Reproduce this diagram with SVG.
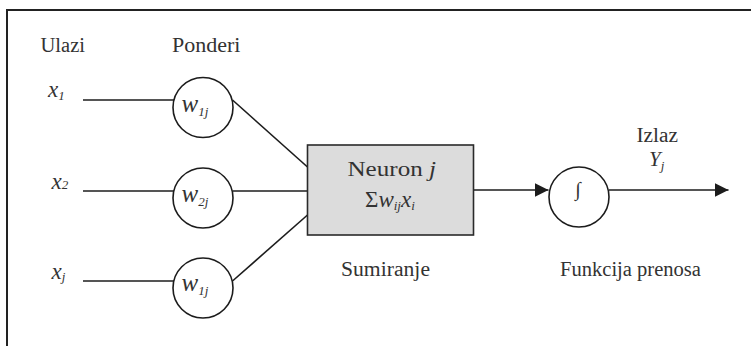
<svg xmlns="http://www.w3.org/2000/svg" width="751" height="346" viewBox="0 0 751 346" font-family="'Liberation Serif', serif">
  <style>
    text { font-family: 'Liberation Serif', serif; fill: #333; }
    .t20 { font-size: 20px; }
    .t21 { font-size: 20.5px; }
    .t22 { font-size: 21px; }
    .var { font-size: 23px; font-style: italic; }
    .wt { font-size: 25px; font-style: italic; }
    .it { font-style: italic; }
    .sub { font-size: 13px; font-style: italic; }
    .edge { stroke: #1c1c1c; stroke-width: 1.6; fill: none; }
    .node { stroke: #1c1c1c; stroke-width: 1.6; fill: #fff; }
    .sum { stroke: #2a2a2a; stroke-width: 1.6; fill: #dcdcdc; }
  </style>
  <defs>
    <marker id="arrow" viewBox="0 0 14 14" refX="14" refY="7" markerWidth="14" markerHeight="14" markerUnits="userSpaceOnUse" orient="auto">
      <path d="M0,0 L14,7 L0,14 Z" fill="#1c1c1c"/>
    </marker>
  </defs>

  <rect width="751" height="346" fill="#fff"/>
  <!-- frame: top and left edges only -->
  <path d="M7,346 V10 H751" stroke="#222" stroke-width="2" fill="none"/>

  <!-- column headings -->
  <text class="t21" x="40.5" y="52" textLength="44.5" lengthAdjust="spacingAndGlyphs">Ulazi</text>
  <text class="t21" x="172" y="52" textLength="68.5" lengthAdjust="spacingAndGlyphs">Ponderi</text>

  <!-- connectors -->
  <g id="connectors">
    <line class="edge" x1="83" y1="100" x2="174" y2="100"/>
    <line class="edge" x1="83" y1="191" x2="174" y2="191"/>
    <line class="edge" x1="83" y1="281" x2="174" y2="281"/>
    <line class="edge" x1="232.5" y1="100" x2="307.5" y2="167"/>
    <line class="edge" x1="232.5" y1="191" x2="307.5" y2="191"/>
    <line class="edge" x1="232.5" y1="281" x2="307.5" y2="215"/>
    <line class="edge" x1="473.5" y1="190" x2="548.5" y2="190" marker-end="url(#arrow)"/>
    <line class="edge" x1="609" y1="190" x2="728.5" y2="190" marker-end="url(#arrow)"/>
  </g>

  <!-- inputs -->
  <g id="input-x1">
    <text class="var" x="48" y="97">x<tspan class="sub" dy="3">1</tspan></text>
  </g>
  <g id="input-x2">
    <text class="var" x="51.5" y="189">x<tspan class="sub">2</tspan></text>
  </g>
  <g id="input-xj">
    <text class="var" x="51.5" y="279">x<tspan class="sub" dy="2">j</tspan></text>
  </g>

  <!-- weights -->
  <g id="weight-1">
    <circle class="node" cx="203" cy="107.5" r="30"/>
    <text class="wt" x="181.5" y="112">w<tspan class="sub" dy="4">1j</tspan></text>
  </g>
  <g id="weight-2">
    <circle class="node" cx="203" cy="198" r="30"/>
    <text class="wt" x="181.5" y="202">w<tspan class="sub" dy="4">2j</tspan></text>
  </g>
  <g id="weight-3">
    <circle class="node" cx="203" cy="288" r="30"/>
    <text class="wt" x="181.5" y="291">w<tspan class="sub" dy="4">1j</tspan></text>
  </g>

  <!-- summing neuron -->
  <g id="neuron">
    <rect class="sum" x="307.5" y="145" width="166" height="90"/>
    <text class="t22" x="347.5" y="176" textLength="88.5" lengthAdjust="spacingAndGlyphs">Neuron <tspan class="it">j</tspan></text>
    <text class="var" x="365" y="207" style="font-style:normal">Σ<tspan class="it">w</tspan><tspan class="sub" dy="3">ij</tspan><tspan class="it" dy="-3">x</tspan><tspan class="sub" dy="3">i</tspan></text>
    <text class="t21" x="341" y="276" textLength="89" lengthAdjust="spacingAndGlyphs">Sumiranje</text>
  </g>

  <!-- transfer function -->
  <g id="transfer">
    <circle class="node" cx="579" cy="197" r="30"/>
    <text class="t20" x="578" y="196" text-anchor="middle">∫</text>
    <text class="t21" x="560" y="276" textLength="141" lengthAdjust="spacingAndGlyphs">Funkcija prenosa</text>
  </g>

  <!-- output -->
  <g id="output">
    <text class="t21" x="636.5" y="142" textLength="41.5" lengthAdjust="spacingAndGlyphs">Izlaz</text>
    <text class="t22 it" x="649" y="166">Y<tspan class="sub" dy="4">j</tspan></text>
  </g>
</svg>
